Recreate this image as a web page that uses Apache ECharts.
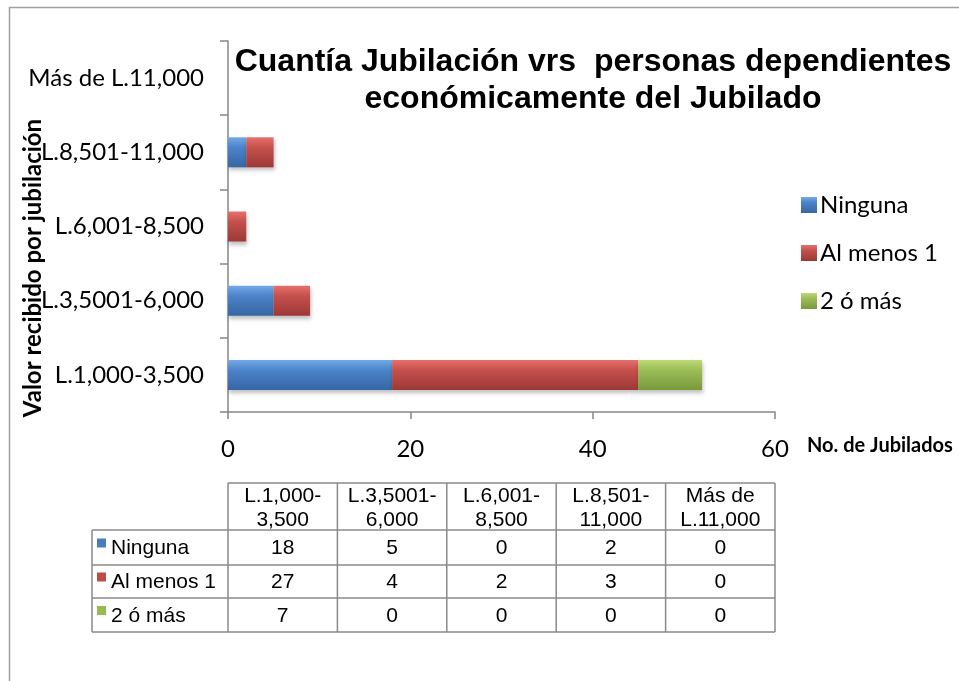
<!DOCTYPE html>
<html>
<head>
<meta charset="utf-8">
<script src="https://cdn.jsdelivr.net/npm/echarts@6/dist/echarts.min.js"></script>
<style>
  html, body { margin: 0; padding: 0; background: #fff; }
  #chart { width: 959px; height: 681px; }
</style>
</head>
<body>
<div id="chart"></div>
<script>
// data
var categories = ['L.1,000-3,500', 'L.3,5001-6,000', 'L.6,001-8,500', 'L.8,501-11,000', 'Más de L.11,000']
var tableHeaders = ['L.1,000-\n3,500', 'L.3,5001-\n6,000', 'L.6,001-\n8,500', 'L.8,501-\n11,000', 'Más de\nL.11,000']
var seriesNames = ['Ninguna', 'Al menos 1', '2 ó más']
var ninguna = [18, 5, 0, 2, 0]
var alMenos1 = [27, 4, 2, 3, 0]
var dosOMas = [7, 0, 0, 0, 0]
var xTicks = [0, 20, 40, 60]

var seriesValues = [ninguna, alMenos1, dosOMas]

function grad(top, mid, bottom) {
  return new echarts.graphic.LinearGradient(0, 0, 0, 1, [
    { offset: 0, color: top },
    { offset: 0.35, color: mid },
    { offset: 1, color: bottom }
  ])
}
var colors = [
  grad('#74a9e6', '#4b83c9', '#3766a3'),
  grad('#e6706c', '#c4504c', '#9c3936'),
  grad('#bcdb74', '#9cbc58', '#789a3a')
]
var flatColors = ['#4a7ebb', '#be4b48', '#98b954']

var chartDom = document.getElementById('chart')
var myChart = echarts.init(chartDom, null, { renderer: 'canvas' })

// layout of the plot and the data table
var plotLeft = 228, plotRight = 775, plotTop = 41, plotBottom = 412
var colW = (plotRight - plotLeft) / categories.length
var tblLeft = 92, tblTop = 483, headBottom = 530
var rowBounds = [530, 565, 598, 632]
var lineColor = '#8a8a8a'
var labelFont = 'Lato, "Open Sans", sans-serif'
var tableFont = '21px "Liberation Sans", Arial, sans-serif'

var graphics = []
// outer frame
graphics.push({
  type: 'rect',
  shape: { x: 9.5, y: 7.5, width: 1200, height: 1200 },
  style: { fill: 'none', stroke: '#a0a0a0', lineWidth: 1.5 }
})
// y axis title
graphics.push({
  type: 'text',
  x: 33, y: 268,
  rotation: Math.PI / 2,
  style: {
    text: 'Valor recibido por jubilación',
    font: 'bold 24px ' + labelFont,
    fill: '#000',
    align: 'center',
    verticalAlign: 'middle'
  }
})
// x axis title
graphics.push({
  type: 'text',
  x: 807, y: 446,
  style: {
    text: 'No. de Jubilados',
    font: 'bold 20px ' + labelFont,
    fill: '#000',
    align: 'left',
    verticalAlign: 'middle'
  }
})

// table lines
function hline(y, x1, x2) {
  graphics.push({ type: 'line', shape: { x1: x1, y1: y, x2: x2, y2: y }, style: { stroke: lineColor, lineWidth: 1.5 } })
}
function vline(x, y1, y2) {
  graphics.push({ type: 'line', shape: { x1: x, y1: y1, x2: x, y2: y2 }, style: { stroke: lineColor, lineWidth: 1.5 } })
}
hline(tblTop, plotLeft, plotRight)
rowBounds.forEach(function (y) { hline(y, tblLeft, plotRight) })
for (var c = 0; c <= categories.length; c++) {
  vline(plotLeft + c * colW, tblTop, rowBounds[rowBounds.length - 1])
}
vline(tblLeft, headBottom, rowBounds[rowBounds.length - 1])

// header text
tableHeaders.forEach(function (h, i) {
  graphics.push({
    type: 'text',
    x: plotLeft + (i + 0.5) * colW, y: (tblTop + headBottom) / 2 + 2,
    style: { text: h, font: tableFont, fill: '#000', align: 'center', verticalAlign: 'middle', lineHeight: 24 }
  })
})
// rows
seriesNames.forEach(function (name, r) {
  var yMid = (rowBounds[r] + rowBounds[r + 1]) / 2
  graphics.push({
    type: 'rect',
    shape: { x: tblLeft + 5, y: yMid - 9, width: 9, height: 9 },
    style: { fill: flatColors[r] }
  })
  graphics.push({
    type: 'text',
    x: tblLeft + 19, y: yMid + 1,
    style: { text: name, font: tableFont, fill: '#000', align: 'left', verticalAlign: 'middle' }
  })
  seriesValues[r].forEach(function (v, i) {
    graphics.push({
      type: 'text',
      x: plotLeft + (i + 0.5) * colW, y: yMid + 1,
      style: { text: String(v), font: tableFont, fill: '#000', align: 'center', verticalAlign: 'middle' }
    })
  })
})

var option = {
  backgroundColor: '#fff',
  animation: false,
  title: {
    text: 'Cuantía Jubilación vrs  personas dependientes\neconómicamente del Jubilado',
    left: 588,
    top: 39,
    textAlign: 'center',
    textStyle: {
      fontFamily: '"Liberation Sans", Arial, sans-serif',
      fontWeight: 'bold',
      fontSize: 32,
      lineHeight: 37,
      color: '#000'
    }
  },
  legend: {
    orient: 'vertical',
    left: 796,
    top: 187,
    itemGap: 22,
    itemWidth: 16,
    itemHeight: 16,
    icon: 'rect',
    data: seriesNames,
    textStyle: { fontFamily: labelFont, fontSize: 24, lineHeight: 26, color: '#000', padding: [0, 0, 0, -2] }
  },
  grid: {
    left: plotLeft,
    right: 959 - plotRight,
    top: plotTop,
    bottom: 681 - plotBottom,
    containLabel: false
  },
  xAxis: {
    type: 'value',
    min: xTicks[0],
    max: xTicks[xTicks.length - 1],
    interval: 20,
    splitLine: { show: false },
    axisLine: { show: true, lineStyle: { color: '#868686', width: 1.5 } },
    axisTick: { show: true, length: 7, lineStyle: { color: '#868686', width: 1.5 } },
    axisLabel: { margin: 25, fontFamily: labelFont, fontSize: 24, color: '#000' }
  },
  yAxis: {
    type: 'category',
    data: categories,
    axisLine: { show: true, lineStyle: { color: '#868686', width: 1.5 } },
    axisTick: { show: true, length: 8, inside: false, lineStyle: { color: '#868686', width: 1.5 } },
    axisLabel: { margin: 24, fontFamily: labelFont, fontSize: 24, color: '#000' }
  },
  series: seriesNames.map(function (name, i) {
    return {
      name: name,
      type: 'bar',
      stack: 'total',
      barWidth: 30,
      data: seriesValues[i],
      itemStyle: {
        color: colors[i],
        shadowBlur: 4,
        shadowOffsetY: 3,
        shadowOffsetX: 1,
        shadowColor: 'rgba(0,0,0,0.25)'
      }
    }
  }),
  graphic: graphics
}

option && myChart.setOption(option)
</script>
</body>
</html>
